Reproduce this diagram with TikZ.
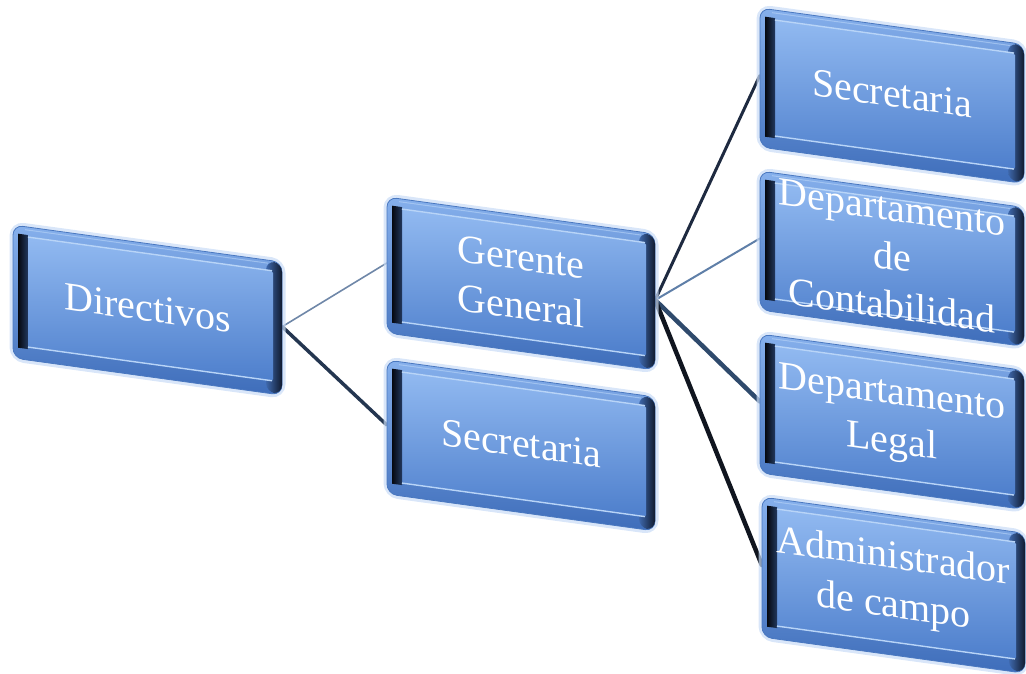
\documentclass[tikz,border=0pt]{standalone}
\usepackage{fontspec}
\setmainfont{Liberation Serif}
\pgfdeclarelayer{background}
\pgfsetlayers{background,main}
\definecolor{glowc}{HTML}{C9DCF6}
\definecolor{bodytop}{HTML}{86B0EC}
\definecolor{bodybot}{HTML}{3E6DBA}
\definecolor{bodyline}{HTML}{4A78C0}
\definecolor{edgedark}{HTML}{101A2E}
\definecolor{edgemid}{HTML}{3E68AC}
\definecolor{facetop}{HTML}{92BAF1}
\definecolor{facebot}{HTML}{4E7FCC}
\definecolor{stripdark}{HTML}{05080F}
\definecolor{stripmid}{HTML}{22385E}
\definecolor{hilite}{HTML}{B8D4F7}
\definecolor{lnA}{HTML}{6F87A8}
\definecolor{lnB}{HTML}{243650}
\definecolor{lnC}{HTML}{1E2A40}
\definecolor{lnD}{HTML}{5F7FA8}
\definecolor{lnE}{HTML}{2F4A6C}
\definecolor{lnF}{HTML}{10151F}
\tikzset{
  glowline/.style={draw=glowc, line width=7pt, rounded corners=11pt, opacity=0.7},
  bodyshape/.style={rounded corners=10pt, top color=bodytop, bottom color=bodybot, draw=bodyline, line width=0.8pt},
  rightedge/.style={rounded corners=9pt, left color=edgemid, right color=edgedark},
  faceshape/.style={rounded corners=2pt, top color=facetop, bottom color=facebot},
  leftstrip/.style={left color=stripdark, right color=stripmid},
  hiline/.style={draw=hilite, line width=1.4pt},
  boxtext/.style={transform shape, text=white, align=center, inner sep=0pt,
    font=\fontsize{40}{49}\selectfont},
  conn/.style={line cap=round}
}
% #1 name, #2 x, #3 y, #4 w, #5 h, #6 text
\newcommand{\orgbox}[6]{%
\begin{scope}[shift={(#2,#3)}, cm={1,-0.138,0,1,(0,0)}]
  \draw[glowline] (0,0) rectangle (#4,#5);
  \path[bodyshape] (0,0) rectangle (#4,#5);
  \path[rightedge] ({#4-16},1) rectangle (#4,{#5-1});
  \path[faceshape] (5,10) rectangle ({#4-9},{#5-13});
  \path[leftstrip] (5,8) rectangle (15,{#5-11});
  \draw[hiline] (15,10) -- ({#4-10},10);
  \draw[hiline] (15,{#5-13}) -- ({#4-10},{#5-13});
  \draw[draw=hilite, line width=1pt, opacity=0.6] (12,3) -- ({#4-14},3);
  \node[boxtext, minimum width=#4pt, minimum height=#5pt] (#1) at ({#4/2},{#5/2-2}) {#6};
\end{scope}}

\begin{document}
\begin{tikzpicture}[x=1pt, y=-1pt]
\useasboundingbox (0,0) rectangle (1026,673);

\orgbox{dir}{13}{225}{269}{133}{Directivos}
\orgbox{ger}{387}{197}{268}{136}{Gerente\\General}
\orgbox{secm}{387}{360}{268}{134}{Secretaria}
\orgbox{secr}{760}{8}{264}{139}{Secretaria}
\orgbox{cont}{760}{171}{264}{139}{Departamento\\de\\Contabilidad}
\orgbox{legal}{760}{334}{264}{139}{Departamento\\Legal}
\orgbox{admin}{762}{497}{263}{140}{Administrador\\de campo}

\begin{pgfonlayer}{background}
  \draw[conn, draw=lnA, line width=1.6pt] (dir.east) -- (ger.west);
  \draw[conn, draw=lnB, line width=3.5pt] (dir.east) -- (secm.west);
  \draw[conn, draw=lnC, line width=3pt] (ger.east) -- (secr.west);
  \draw[conn, draw=lnD, line width=2pt] (ger.east) -- (cont.west);
  \draw[conn, draw=lnE, line width=4.5pt] (ger.east) -- (legal.west);
  \draw[conn, draw=lnF, line width=4.5pt] (ger.east) -- (admin.west);
\end{pgfonlayer}
\end{tikzpicture}
\end{document}
